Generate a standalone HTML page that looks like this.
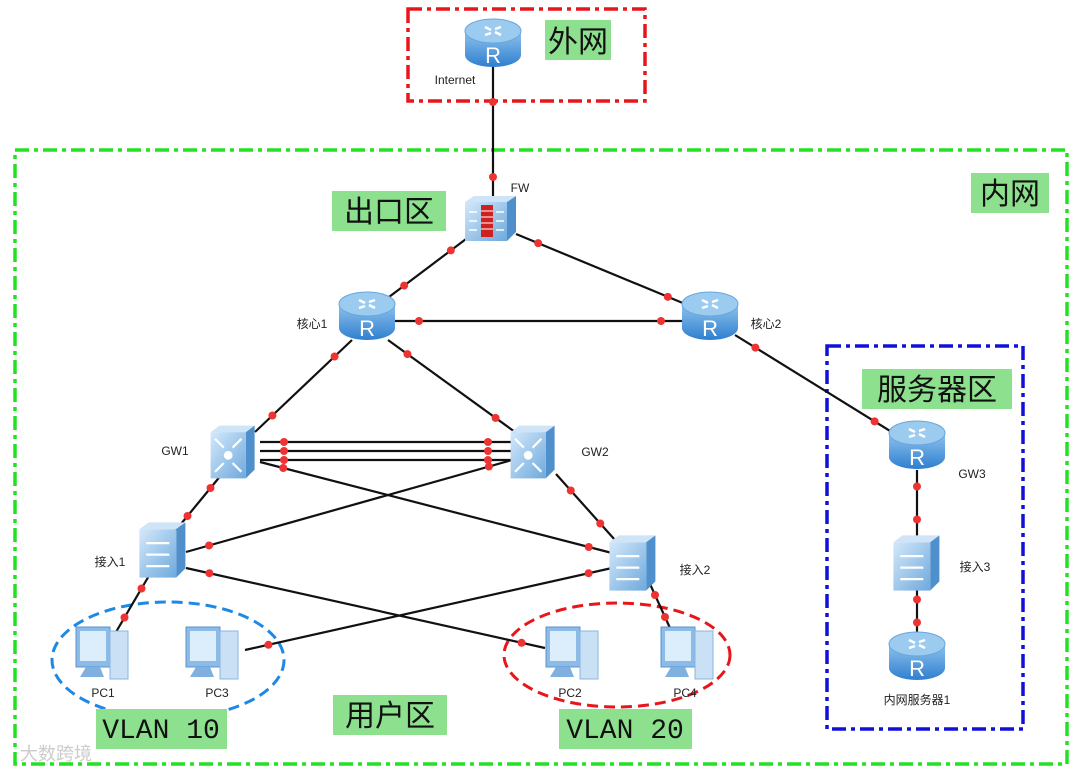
<!DOCTYPE html>
<html><head><meta charset="utf-8"><style>
html,body{margin:0;padding:0;background:#fff;width:1080px;height:775px;overflow:hidden}
text{font-family:"Liberation Sans","Noto Sans CJK SC",sans-serif}
.lbl{font-size:12px;fill:#222}
.big{font-size:30px;fill:#111}
.mono{font-family:"Liberation Mono",monospace;font-size:28px;fill:#111}
</style></head><body>
<svg id="s" width="1080" height="775" viewBox="0 0 1080 775" xmlns="http://www.w3.org/2000/svg">
<defs>
<linearGradient id="rg" x1="0" y1="0" x2="0" y2="1"><stop offset="0" stop-color="#8fc3ee"/><stop offset="1" stop-color="#2f7fcf"/></linearGradient>
<linearGradient id="sg" x1="0" y1="0" x2="1" y2="1"><stop offset="0" stop-color="#d3e8fa"/><stop offset="1" stop-color="#6ea9dd"/></linearGradient>
<g id="router">
<path d="M-28,-12 v24 a28,12 0 0 0 56,0 v-24 z" fill="url(#rg)"/>
<ellipse cx="0" cy="-12" rx="28" ry="12" fill="#9ccbf0" stroke="#6aa6da"/>
<path d="M-8,-16 l6,3 M8,-8 l-6,-3 M-8,-8 l6,-2 M8,-16 l-6,2" stroke="#fff" stroke-width="2.5"/>
<text x="0" y="20" text-anchor="middle" font-size="22" fill="#fff" font-family="Liberation Sans">R</text>
</g>
<g id="sw0">
<path d="M-24,-18 l8,-6 h32 l-8,6 z" fill="#cfe4f7"/>
<path d="M16,-24 v40 l-8,8 v-42 z" fill="#4f8fcc"/>
<rect x="-24" y="-18" width="32" height="42" fill="url(#sg)"/>
<path d="M-18,-6 h20 M-18,4 h20 M-18,14 h20" stroke="#fff" stroke-width="2"/>
</g>
<g id="sw"><use href="#sw0" transform="scale(1.15)"/></g>
<g id="l30">
<path d="M-24,-18 l8,-6 h32 l-8,6 z" fill="#cfe4f7"/>
<path d="M16,-24 v40 l-8,8 v-42 z" fill="#4f8fcc"/>
<rect x="-24" y="-18" width="32" height="42" fill="url(#sg)"/>
<circle cx="-8" cy="3" r="4" fill="#fff"/>
<path d="M-20,-12 l8,8 M4,-12 l-8,8 M-20,18 l8,-8 M4,18 l-8,-8" stroke="#fff" stroke-width="2"/>
</g>
<g id="l3"><use href="#l30" transform="scale(1.1)"/></g>
<g id="pc">
<rect x="-28" y="-28" width="34" height="40" fill="#8bbbe6" stroke="#5b93cc"/>
<rect x="-24" y="-24" width="26" height="30" fill="#dcedfb"/>
<rect x="6" y="-24" width="18" height="48" fill="#c9e0f5" stroke="#8ab4de"/>
<path d="M-18,12 h14 l4,10 h-24 z" fill="#7fb0e0"/>
</g>
</defs>

<rect x="408" y="9" width="237" height="92" fill="none" stroke="#e8161b" stroke-width="3.5" stroke-dasharray="14,5,4,5"/>
<rect x="15" y="150" width="1052" height="614" fill="none" stroke="#22e022" stroke-width="3.5" stroke-dasharray="14,5,4,5"/>
<rect x="827" y="346" width="196" height="383" fill="none" stroke="#1010d8" stroke-width="3.5" stroke-dasharray="14,5,4,5"/>

<ellipse cx="168" cy="660" rx="116" ry="58" fill="none" stroke="#1e88e5" stroke-width="3" stroke-dasharray="11,6"/>
<ellipse cx="617" cy="655" rx="113" ry="52" fill="none" stroke="#e8161b" stroke-width="3" stroke-dasharray="11,6"/>

<g fill="#8de08d">
<rect x="545" y="20" width="66" height="40"/>
<rect x="332" y="191" width="114" height="40"/>
<rect x="971" y="173" width="78" height="40"/>
<rect x="862" y="369" width="150" height="40"/>
<rect x="333" y="695" width="114" height="40"/>
<rect x="96" y="709" width="131" height="40"/>
<rect x="559" y="709" width="133" height="40"/>
</g>
<text class="big" x="578" y="52" text-anchor="middle">外网</text>
<text class="big" x="389" y="222" text-anchor="middle">出口区</text>
<text class="big" x="1010" y="204" text-anchor="middle">内网</text>
<text class="big" x="937" y="400" text-anchor="middle">服务器区</text>
<text class="big" x="390" y="726" text-anchor="middle">用户区</text>
<text class="mono" x="161" y="738" text-anchor="middle">VLAN 10</text>
<text class="mono" x="625" y="738" text-anchor="middle">VLAN 20</text>

<g id="lines" stroke="#111" stroke-width="2.2" fill="none"></g>
<g id="dots" fill="#ee3333"><circle cx="493" cy="102" r="4"/><circle cx="493" cy="177" r="4"/></g>

<use href="#router" x="493" y="43"/>
<g transform="translate(491,218)">
<path d="M-26,-16 l9,-6 h42 l-9,6 z" fill="#cfe4f7"/>
<path d="M25,-22 v36 l-9,9 v-39 z" fill="#4f8fcc"/>
<rect x="-26" y="-16" width="42" height="39" fill="url(#sg)"/>
<rect x="-10" y="-13" width="12" height="32" fill="#c22"/>
<path d="M-10,-7 h12 M-10,-1 h12 M-10,5 h12 M-10,11 h12" stroke="#fff" stroke-width="1"/>
<path d="M-22,-6 h8 M-22,3 h8 M-22,12 h8 M5,-6 h8 M5,3 h8 M5,12 h8" stroke="#fff" stroke-width="1.5"/>
</g>
<use href="#router" x="367" y="316"/>
<use href="#router" x="710" y="316"/>
<use href="#l3" x="237" y="452"/>
<use href="#l3" x="537" y="452"/>
<use href="#sw" x="167" y="550"/>
<use href="#sw" x="637" y="563"/>
<use href="#router" x="917" y="445"/>
<use href="#sw" x="921" y="563"/>
<use href="#router" x="917" y="656"/>
<use href="#pc" x="104" y="655"/>
<use href="#pc" x="214" y="655"/>
<use href="#pc" x="574" y="655"/>
<use href="#pc" x="689" y="655"/>

<text class="lbl" x="455" y="84" text-anchor="middle">Internet</text>
<text class="lbl" x="520" y="192" text-anchor="middle">FW</text>
<text class="lbl" x="312" y="328" text-anchor="middle">核心1</text>
<text class="lbl" x="766" y="328" text-anchor="middle">核心2</text>
<text class="lbl" x="175" y="455" text-anchor="middle">GW1</text>
<text class="lbl" x="595" y="456" text-anchor="middle">GW2</text>
<text class="lbl" x="972" y="478" text-anchor="middle">GW3</text>
<text class="lbl" x="110" y="566" text-anchor="middle">接入1</text>
<text class="lbl" x="695" y="574" text-anchor="middle">接入2</text>
<text class="lbl" x="975" y="571" text-anchor="middle">接入3</text>
<text class="lbl" x="917" y="704" text-anchor="middle">内网服务器1</text>
<text class="lbl" x="103" y="697" text-anchor="middle">PC1</text>
<text class="lbl" x="217" y="697" text-anchor="middle">PC3</text>
<text class="lbl" x="570" y="697" text-anchor="middle">PC2</text>
<text class="lbl" x="685" y="697" text-anchor="middle">PC4</text>
<text x="20" y="760" font-size="18" fill="#ccc">大数跨境</text>
</svg>
<script>
var L=[[493,66,493,196,0,0],[470,236,385,300,1,1],[516,234,690,306,1,1],[395,321,685,321,1,1],
[352,340,255,432,1,1],[388,340,515,432,1,1],[735,335,895,434,1,1],
[260,442,512,442,1,1],[260,451,512,451,1,1],[260,460,512,460,1,1],
[222,474,176,530,1,1],[556,474,615,540,1,1],[260,462,612,553,1,1],[512,460,186,552,1,1],
[186,568,545,648,1,1],[612,568,245,650,1,1],[150,574,116,632,1,1],[650,584,670,628,1,1],
[917,470,917,536,1,1],[917,588,917,634,1,1]];
var ns="http://www.w3.org/2000/svg",g=document.getElementById('lines'),d=document.getElementById('dots');
L.forEach(function(a){var l=document.createElementNS(ns,'line');l.setAttribute('x1',a[0]);l.setAttribute('y1',a[1]);l.setAttribute('x2',a[2]);l.setAttribute('y2',a[3]);g.appendChild(l);
var dx=a[2]-a[0],dy=a[3]-a[1],n=Math.sqrt(dx*dx+dy*dy);var off=Math.min(24,n*0.25);
[[a[4],off],[a[5],n-off]].forEach(function(p){if(!p[0])return;var c=document.createElementNS(ns,'circle');c.setAttribute('cx',a[0]+dx*p[1]/n);c.setAttribute('cy',a[1]+dy*p[1]/n);c.setAttribute('r',4);d.appendChild(c);});});
</script>
</body></html>
